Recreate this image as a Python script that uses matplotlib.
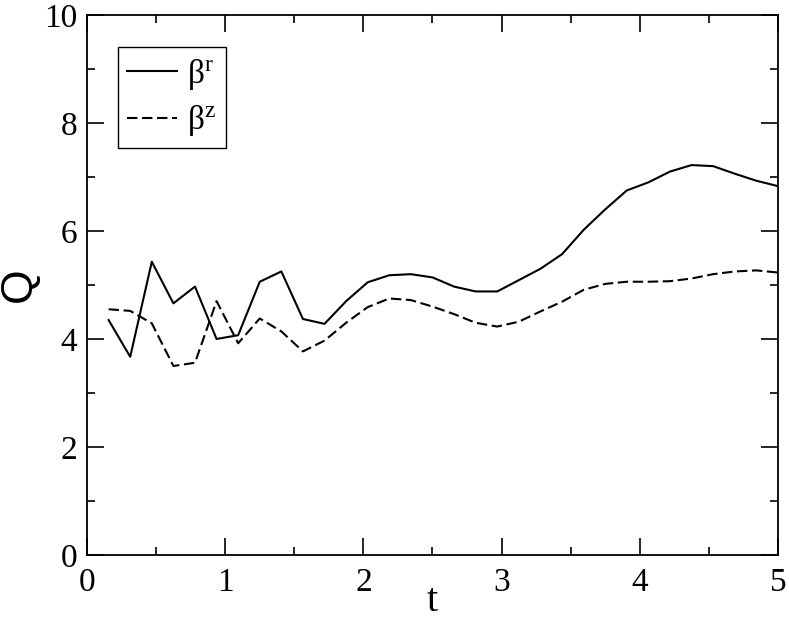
import numpy as np
import matplotlib.pyplot as plt
from matplotlib.ticker import MultipleLocator

# ---- data ----
t = np.arange(1, 33) * 5.0 / 32

beta_r = [4.35, 3.67, 5.43, 4.66, 4.97, 4.00, 4.07, 5.06, 5.25, 4.37,
          4.28, 4.70, 5.05, 5.18, 5.20, 5.14, 4.97, 4.88, 4.88, 5.09,
          5.30, 5.57, 6.02, 6.40, 6.75, 6.90, 7.10, 7.22, 7.20, 7.06,
          6.93, 6.83]

beta_z = [4.55, 4.52, 4.29, 3.50, 3.56, 4.70, 3.92, 4.38, 4.14, 3.77,
          3.97, 4.30, 4.59, 4.75, 4.72, 4.60, 4.46, 4.30, 4.23, 4.32,
          4.51, 4.69, 4.91, 5.02, 5.06, 5.06, 5.07, 5.12, 5.20, 5.25,
          5.27, 5.23]

plt.rcParams['font.family'] = ['Liberation Serif', 'DejaVu Serif']
plt.rcParams['mathtext.fontset'] = 'custom'
plt.rcParams['mathtext.rm'] = 'Liberation Serif'
plt.rcParams['mathtext.it'] = 'Liberation Serif'

fig = plt.figure(figsize=(7.89, 6.22), dpi=100)
ax = fig.add_axes([0.1103, 0.1077, 0.8757, 0.8683])

ax.plot(t, beta_r, 'k-', linewidth=1.5, label=r'$\mathrm{\beta}^{\mathrm{r}}$')
ax.plot(t, beta_z, 'k--', linewidth=1.5, dashes=(5, 2.2), label=r'$\mathrm{\beta}^{\mathrm{z}}$')

ax.set_xlim(0, 5)
ax.set_ylim(0, 10)
ax.xaxis.set_major_locator(MultipleLocator(1))
ax.xaxis.set_minor_locator(MultipleLocator(0.5))
ax.yaxis.set_major_locator(MultipleLocator(2))
ax.yaxis.set_minor_locator(MultipleLocator(1))
ax.tick_params(which='both', direction='in', top=True, right=True, width=1.2)
ax.tick_params(which='major', length=12, labelsize=24)
ax.tick_params(which='minor', length=6)
ax.tick_params(axis='x', pad=9)
ax.tick_params(axis='y', pad=7)
for s in ax.spines.values():
    s.set_linewidth(1.3)

ax.set_xlabel('t', fontsize=29)
ax.xaxis.set_label_coords(0.5, -0.121)
ax.xaxis.label.set_va('bottom')
ax.set_ylabel('Q', fontsize=32, family='Liberation Sans')
ax.yaxis.set_label_coords(-0.068, 0.5)

leg = ax.legend(loc='upper left', bbox_to_anchor=(0.045, 0.94), fontsize=24,
                frameon=True, fancybox=False, framealpha=1, edgecolor='black',
                handlelength=1.5, handletextpad=0.3, borderpad=0.28,
                labelspacing=0.35, borderaxespad=0)
leg.get_frame().set_linewidth(1.0)

fig.savefig('out.png', dpi=100)
